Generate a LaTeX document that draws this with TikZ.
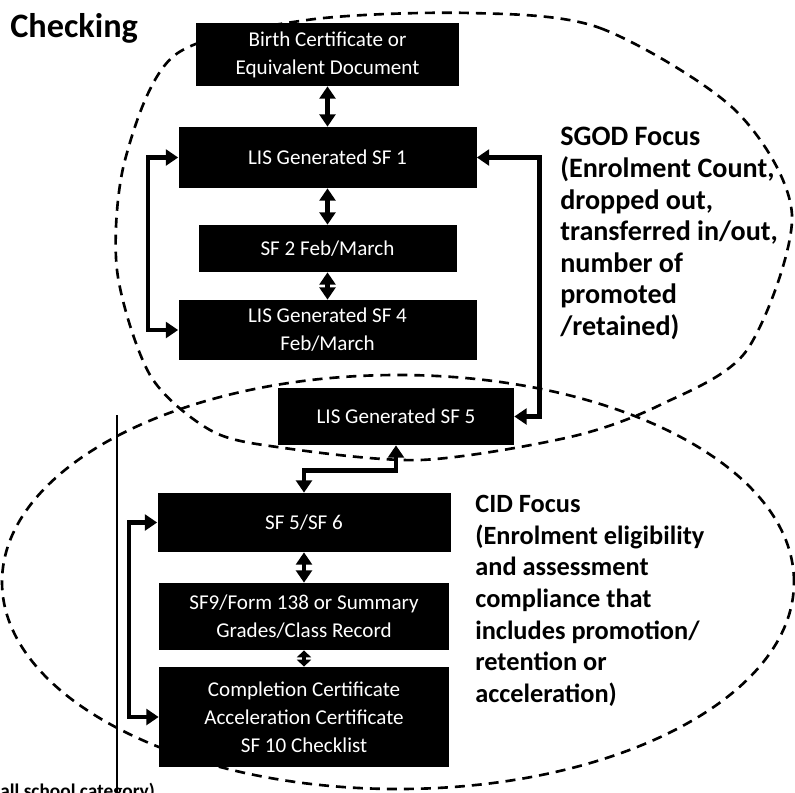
\documentclass[tikz,border=0pt]{standalone}
\usepackage{fontspec}
\setmainfont{Carlito}
\usetikzlibrary{arrows.meta,positioning}

\tikzset{
  docbox/.style={fill=black, text=white, align=center, inner sep=2pt,
    font=\fontsize{12}{16}\selectfont},
  flow/.style={line width=2.5pt,
    {Triangle[width=9pt,length=7pt]}-{Triangle[width=9pt,length=7pt]}},
  shortflow/.style={line width=2.5pt,
    {Triangle[width=8pt,length=4pt]}-{Triangle[width=8pt,length=4pt]}},
  focus/.style={line width=1.5pt, dash pattern=on 0.2cm off 0.14cm},
  focustext/.style={anchor=north west, align=left, inner sep=0pt,
    font=\fontsize{15}{18}\selectfont\bfseries}
}

\begin{document}
\begin{tikzpicture}
\useasboundingbox (0,0) rectangle (15.9,-15.84);
\clip (0,0) rectangle (15.9,-15.84);

% SGOD area (upper) and CID area (lower)
\draw[focus] plot[smooth cycle] coordinates {
  (9.40,-0.26) (12.00,-0.56) (14.70,-2.20) (15.84,-4.30) (14.94,-7.00)
  (13.20,-8.10) (11.40,-8.74) (8.40,-9.20) (5.54,-8.94) (4.20,-8.60)
  (3.00,-7.50) (2.34,-5.40) (2.50,-3.20) (3.50,-1.10) (6.14,-0.40)};
\draw[focus] (7.96,-11.64) ellipse [x radius=7.92cm, y radius=4.14cm];

% title and cut-off note
\node[anchor=base west, inner sep=0pt, font=\fontsize{19.5}{20}\selectfont\bfseries]
      (title) at (0.2,-0.74) {Checking};
\node[anchor=base west, inner sep=0pt, font=\fontsize{11}{12}\selectfont\bfseries]
      (cat) at (0,-15.94) {all school category)};
\draw[line width=0.6pt] (2.34,-8.3) -- (2.34,-15.84);

% upper documents
\node[docbox, minimum width=5.26cm, minimum height=1.26cm]
      (birth) at (6.55,-1.09) {Birth Certificate or\\Equivalent Document};
\node[docbox, minimum width=5.96cm, minimum height=1.22cm]
      (sf1) at (6.55,-3.15) {LIS Generated SF 1};
\node[docbox, minimum width=5.16cm, minimum height=0.94cm]
      (sf2) at (6.55,-4.97) {SF 2 Feb/March};
\node[docbox, minimum width=5.96cm, minimum height=1.20cm]
      (sf1feb) at (6.55,-6.60) {LIS Generated SF 4\\Feb/March};

% shared document
\node[docbox, minimum width=4.72cm, minimum height=1.14cm]
      (sf5) at (7.92,-8.33) {LIS Generated SF 5};

% lower documents
\node[docbox, minimum width=5.86cm, minimum height=1.18cm]
      (sf6) at (6.08,-10.45) {SF 5/SF 6};
\node[docbox, minimum width=5.80cm, minimum height=1.34cm]
      (sf9) at (6.08,-12.33) {SF9/Form 138 or Summary\\Grades/Class Record};
\node[docbox, minimum width=5.80cm, minimum height=2.00cm]
      (cert) at (6.08,-14.34) {Completion Certificate\\Acceleration Certificate\\SF 10 Checklist};

% links
\draw[flow] (birth) -- (sf1);
\draw[flow] (sf1) -- (sf2);
\draw[flow] (sf2) -- (sf1feb);
\draw[flow] (sf1.west) -- ++(-0.6,0) |- (sf1feb.west);
\draw[flow] (sf5.east) -- ++(0.5,0) |- (sf1.east);
\draw[flow] (sf5.south) -- ++(0,-0.5) -| (sf6.north);
\draw[flow] (sf6) -- (sf9);
\draw[shortflow] (sf9) -- (cert);
\draw[flow] (sf6.west) -- ++(-0.56,0) |- (cert.west);

% focus notes
\node[focustext, font=\fontsize{16}{18}\selectfont\bfseries]
      (sgod) at (11.2,-2.54) {SGOD Focus\\(Enrolment Count,\\dropped out,\\transferred in/out,\\number of\\promoted\\/retained)};
\node[focustext] (cid) at (9.5,-9.9) {CID Focus\\(Enrolment eligibility\\and assessment\\compliance that\\includes promotion/\\retention or\\acceleration)};
\end{tikzpicture}
\end{document}
